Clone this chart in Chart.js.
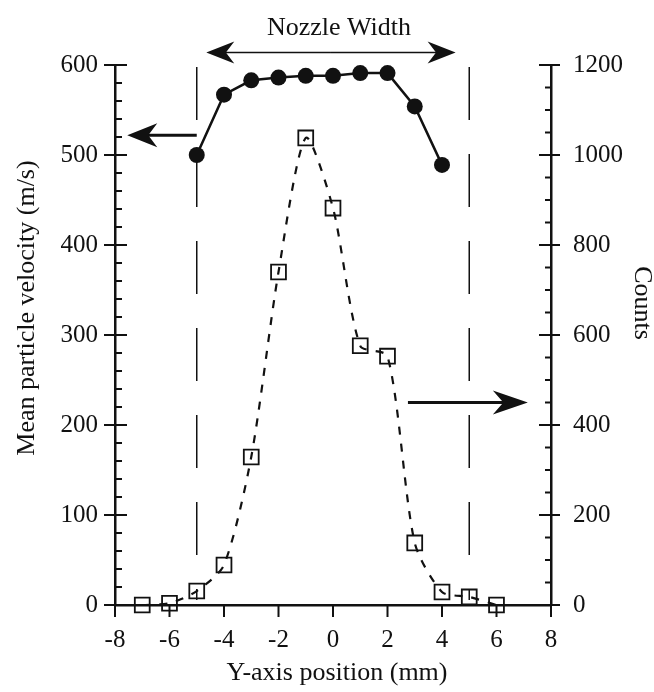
<!DOCTYPE html>
<html>
<head>
<meta charset="utf-8">
<script src="https://cdn.jsdelivr.net/npm/chart.js@4"></script>
<style>
  html, body { margin: 0; padding: 0; background: #fff; }
  #wrap { width: 654px; height: 692px; }
</style>
</head>
<body>
<div id="wrap"><canvas id="nozzle-chart" width="654" height="692"></canvas></div>
<script>
// measured profile across the nozzle
const velocityX = [-5, -4, -3, -2, -1, 0, 1, 2, 3, 4];
const velocity  = [500, 567, 583, 586, 588, 588, 591, 591, 554, 489];

const countsX = [-7, -6, -5, -4, -3, -2, -1, 0, 1, 2, 3, 4, 5, 6];
const counts  = [0, 4, 31, 89, 329, 740, 1038, 882, 576, 553, 138, 29, 18, 0];

const xTicks = [-8, -6, -4, -2, 0, 2, 4, 6, 8];
const velocityTicks = [0, 100, 200, 300, 400, 500, 600];
const countTicks = [0, 200, 400, 600, 800, 1000, 1200];
const nozzleEdges = [-5, 5];

const serif = "'Liberation Serif', 'DejaVu Serif', serif";
const ink = '#111';

function pairs(xs, ys) {
  return xs.map((x, i) => ({x: x, y: ys[i]}));
}

function arrow(ctx, x1, y1, x2, y2, len, half, width) {
  const ang = Math.atan2(y2 - y1, x2 - x1);
  const c = Math.cos(ang), s = Math.sin(ang);
  ctx.lineWidth = width;
  ctx.beginPath();
  ctx.moveTo(x1, y1);
  ctx.lineTo(x2 - c * len * 0.6, y2 - s * len * 0.6);
  ctx.stroke();
  ctx.beginPath();
  ctx.moveTo(x2, y2);
  ctx.lineTo(x2 - c * len - s * half, y2 - s * len + c * half);
  ctx.lineTo(x2 - c * len * 0.7, y2 - s * len * 0.7);
  ctx.lineTo(x2 - c * len + s * half, y2 - s * len - c * half);
  ctx.closePath();
  ctx.fill();
}

// tick marks, nozzle edges, arrows and axis titles
const decorations = {
  id: 'decorations',
  beforeDatasetsDraw(chart) {
    const {ctx, chartArea, scales} = chart;
    const x = scales.x;
    ctx.save();
    ctx.strokeStyle = ink;
    ctx.lineWidth = 1.5;
    ctx.setLineDash([53, 34]);
    nozzleEdges.forEach(v => {
      const px = x.getPixelForValue(v);
      ctx.beginPath();
      ctx.moveTo(px, chartArea.top + 2);
      ctx.lineTo(px, chartArea.bottom - 5);
      ctx.stroke();
    });
    ctx.restore();
  },
  afterDraw(chart) {
    const {ctx, chartArea, scales} = chart;
    const x = scales.x, y = scales.y, y1 = scales.y1;
    ctx.save();
    ctx.strokeStyle = ink;
    ctx.fillStyle = ink;
    ctx.lineWidth = 2;

    // left axis: majors cross the line, minors point inward
    for (let v = 0; v <= 600; v += 20) {
      const py = y.getPixelForValue(v);
      const major = v % 100 === 0;
      ctx.beginPath();
      ctx.moveTo(chartArea.left - (major ? 11 : 0), py);
      ctx.lineTo(chartArea.left + (major ? 12 : 7), py);
      ctx.stroke();
    }
    // right axis
    for (let v = 0; v <= 1200; v += 50) {
      const py = y1.getPixelForValue(v);
      const major = v % 200 === 0;
      ctx.beginPath();
      ctx.moveTo(chartArea.right - (major ? 12 : 6), py);
      ctx.lineTo(chartArea.right + (major ? 9 : 0), py);
      ctx.stroke();
    }
    // bottom axis
    xTicks.forEach(v => {
      const px = x.getPixelForValue(v);
      ctx.beginPath();
      ctx.moveTo(px, chartArea.bottom);
      ctx.lineTo(px, chartArea.bottom + 12);
      ctx.stroke();
    });

    // nozzle width marker
    const ny = y.getPixelForValue(614);
    const nl = x.getPixelForValue(-4.65), nr = x.getPixelForValue(4.5);
    const mid = (nl + nr) / 2;
    arrow(ctx, mid, ny, nl, ny, 28, 11, 1.5);
    arrow(ctx, mid, ny, nr, ny, 28, 11, 1.5);
    ctx.font = '26px ' + serif;
    ctx.textAlign = 'center';
    ctx.textBaseline = 'alphabetic';
    ctx.fillText('Nozzle Width', x.getPixelForValue(0.22), y.getPixelForValue(633));

    // which axis belongs to which curve
    const ly = y.getPixelForValue(522);
    arrow(ctx, x.getPixelForValue(-5), ly, x.getPixelForValue(-7.55), ly, 30, 12, 3);
    const ry = y.getPixelForValue(225);
    arrow(ctx, x.getPixelForValue(2.75), ry, x.getPixelForValue(7.15), ry, 35, 12, 3);

    // axis titles
    ctx.textBaseline = 'alphabetic';
    ctx.fillText('Y-axis position (mm)', 337, 680);
    ctx.textBaseline = 'middle';
    ctx.save();
    ctx.translate(27, 308);
    ctx.rotate(-Math.PI / 2);
    ctx.fillText('Mean particle velocity (m/s)', 0, 0);
    ctx.restore();
    ctx.save();
    ctx.translate(642, 303);
    ctx.rotate(Math.PI / 2);
    ctx.fillText('Counts', 0, 0);
    ctx.restore();
    ctx.restore();
  }
};

const tickFont = {family: serif, size: 25};
const plain = v => String(v);

new Chart(document.getElementById('nozzle-chart').getContext('2d'), {
  type: 'line',
  data: {
    datasets: [
      {
        label: 'velocity',
        data: pairs(velocityX, velocity),
        yAxisID: 'y',
        borderColor: ink,
        backgroundColor: ink,
        borderWidth: 2.5,
        pointStyle: 'circle',
        pointRadius: 8,
        pointBorderWidth: 0,
        tension: 0,
        clip: false
      },
      {
        label: 'counts',
        data: pairs(countsX, counts),
        yAxisID: 'y1',
        borderColor: ink,
        backgroundColor: 'rgba(0,0,0,0)',
        borderWidth: 2.2,
        borderDash: [8, 9],
        pointStyle: 'rect',
        pointRadius: 10.5,
        pointBorderWidth: 1.8,
        tension: 0.25,
        clip: false
      }
    ]
  },
  options: {
    responsive: false,
    animation: false,
    layout: {padding: {top: 65, left: 0, right: 0, bottom: 0}},
    plugins: {
      legend: {display: false},
      tooltip: {enabled: false}
    },
    scales: {
      x: {
        type: 'linear',
        min: -8,
        max: 8,
        afterBuildTicks: s => { s.ticks = xTicks.map(v => ({value: v})); },
        grid: {display: false, drawTicks: false},
        border: {display: true, color: ink, width: 2.5},
        ticks: {color: ink, font: tickFont, padding: 20, maxRotation: 0, callback: plain},
        afterFit: s => { s.height = 87; }
      },
      y: {
        position: 'left',
        min: 0,
        max: 600,
        afterBuildTicks: s => { s.ticks = velocityTicks.map(v => ({value: v})); },
        grid: {display: false, drawTicks: false},
        border: {display: true, color: ink, width: 2.5},
        ticks: {color: ink, font: tickFont, padding: 17, callback: plain},
        afterFit: s => { s.width = 115; }
      },
      y1: {
        position: 'right',
        min: 0,
        max: 1200,
        afterBuildTicks: s => { s.ticks = countTicks.map(v => ({value: v})); },
        grid: {display: false, drawTicks: false},
        border: {display: true, color: ink, width: 2.5},
        ticks: {color: ink, font: tickFont, padding: 22, callback: plain},
        afterFit: s => { s.width = 103; }
      }
    }
  },
  plugins: [decorations]
});
</script>
</body>
</html>
